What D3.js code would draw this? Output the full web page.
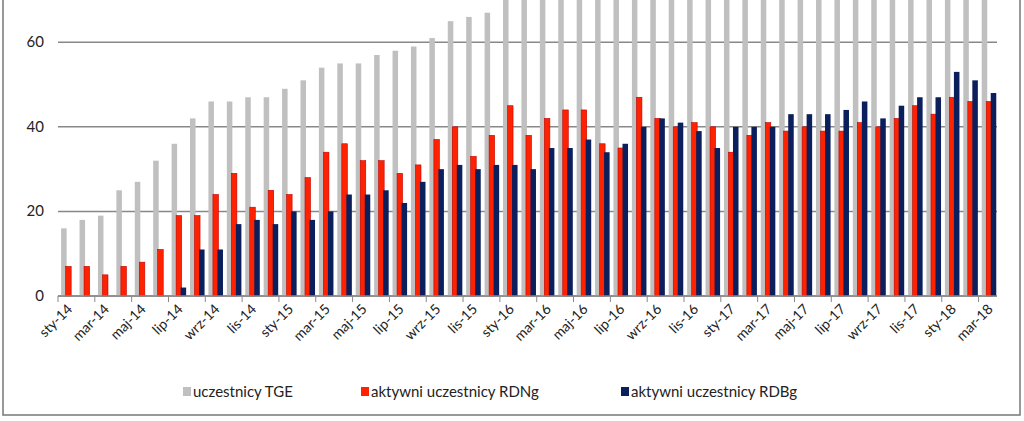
<!DOCTYPE html><html><head><meta charset="utf-8"><script src="https://cdn.jsdelivr.net/npm/d3@7"></script>
<style>body{margin:0;background:#fff}text{font-family:"Lato","Noto Sans",sans-serif;fill:#222}</style></head><body><svg id="c" width="1024" height="421"></svg><script>
const monthNames=["sty","lut","mar","kwi","maj","cze","lip","sie","wrz","paź","lis","gru"];
const categories=[];for(let y=14;y<=18;y++)for(let m=0;m<12;m++){if(y===18&&m>2)break;categories.push(monthNames[m]+"-"+y);}
const tge=[16,18,19,25,27,32,36,42,46,46,47,47,49,51,54,55,55,57,58,59,61,65,66,67,72,74,75,76,77,78,78,79,79,80,80,80,81,81,82,82,83,83,84,84,85,85,86,86,87,87,88];
const rdn=[7,7,5,7,8,11,19,19,24,29,21,25,24,28,34,36,32,32,29,31,37,40,33,38,45,38,42,44,44,36,35,47,42,40,41,40,34,38,41,39,40,39,39,41,40,42,45,43,47,46,46];
const rdb=[0,0,0,0,0,0,2,11,11,17,18,17,20,18,20,24,24,25,22,27,30,31,30,31,31,30,35,35,37,34,36,40,42,41,39,35,40,40,40,43,43,43,44,46,42,45,47,47,53,51,48];
const yTicks=[0,20,40,60];
const series=[{name:"uczestnicy TGE",vals:tge,color:"#c0c0c0"},{name:"aktywni uczestnicy RDNg",vals:rdn,color:"#ff2200",stroke:"#c00000"},{name:"aktywni uczestnicy RDBg",vals:rdb,color:"#0a1f5c"}];
const svg=d3.select("#c");
svg.append("rect").attr("x",3).attr("y",-5).attr("width",1017).attr("height",420).attr("fill","none").attr("stroke","#777").attr("stroke-width",1.5);
const x=d3.scaleBand().domain(categories).range([58,997]).padding(0);
const y=d3.scaleLinear().domain([0,70]).range([296,0]).clamp(true);
const g=svg.append("g");
g.selectAll(".grid").data(yTicks).join("line").attr("x1",58).attr("x2",997).attr("y1",d=>y(d)).attr("y2",d=>y(d)).attr("stroke","#888").attr("stroke-width",1.5);
g.selectAll(".yl").data(yTicks).join("text").attr("x",44).attr("y",d=>y(d)+5).attr("text-anchor","end").attr("font-size",15).text(d=>d);
const bw=x.bandwidth();
series.forEach((s,i)=>{
 g.selectAll(".b"+i).data(s.vals).join("rect").attr("x",(d,j)=>x(categories[j])+bw*(0.17+i*0.245)).attr("width",bw*0.3)
 .attr("y",d=>y(d)).attr("height",d=>y(0)-y(d)).attr("fill",s.color).attr("stroke",s.stroke||"none").attr("stroke-width",0.6);
});
g.append("line").attr("x1",58).attr("x2",997).attr("y1",296).attr("y2",296).attr("stroke","#888").attr("stroke-width",1.5);
const tk=d3.range(0,categories.length+1,2);
g.selectAll(".tk").data(tk).join("line").attr("x1",d=>58+d*bw).attr("x2",d=>58+d*bw).attr("y1",296).attr("y2",302).attr("stroke","#888");
g.selectAll(".xl").data(categories.filter((c,i)=>i%2===0)).join("text")
 .attr("transform",d=>`translate(${x(d)+bw/2+6},${310}) rotate(-45)`).attr("text-anchor","end").attr("font-size",14).text(d=>d);
const lx=[183,361,621];
series.forEach((s,i)=>{
 svg.append("rect").attr("x",lx[i]).attr("y",387).attr("width",8).attr("height",9).attr("fill",s.color);
 svg.append("text").attr("x",lx[i]+10).attr("y",397).attr("font-size",15).text(s.name);
});
</script></body></html>
